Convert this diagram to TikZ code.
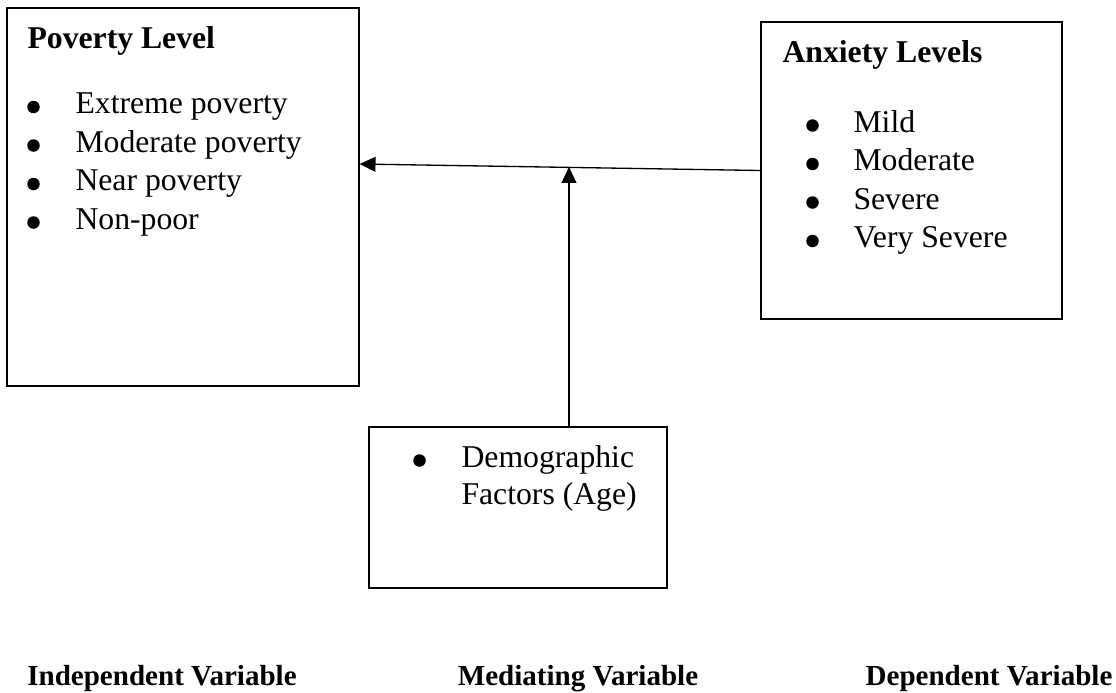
\documentclass[tikz,border=0pt]{standalone}
\usepackage{fontspec}
\setmainfont{Liberation Serif}
\usetikzlibrary{positioning, arrows.meta}
\newlength\px
\setlength\px{0.3785pt}

\begin{document}
\begin{tikzpicture}[
    x=0.3785pt, y=-0.3785pt,
    block/.style={draw, rectangle, line width=0.5pt, inner sep=0pt},
    txt/.style={anchor=base west, inner sep=0pt, font=\fontsize{12pt}{14pt}\selectfont},
    head/.style={txt, font=\fontsize{12pt}{14pt}\selectfont\bfseries},
    dot/.style={circle, fill, inner sep=0pt, minimum size=12.5\px},
    caption/.style={anchor=base, inner sep=0pt, font=\fontsize{11pt}{13pt}\selectfont\bfseries},
    arrow/.style={-{Triangle[length=6pt, width=5.6pt]}, line width=0.5pt}
]
\useasboundingbox (0,0) rectangle (1116,692);

% the three boxes
\node[block, minimum width=352\px, minimum height=378\px] (poverty) at (183,197) {};
\node[block, minimum width=301\px, minimum height=297\px] (anxiety) at (911.5,170.5) {};
\node[block, minimum width=298\px, minimum height=161\px] (demog) at (518,507.5) {};

% box contents
\node[head] (pov-title) at (27,48) {Poverty Level};
\foreach \itm [count=\i] in {Extreme poverty, Moderate poverty, Near poverty, Non-poor} {
    \node[dot] (pov-dot\i) at (33.5, 68.5+38.5*\i) {};
    \node[txt] (pov-txt\i) at (75, 75+38.5*\i) {\itm};
}
\node[head] (anx-title) at (782,62) {Anxiety Levels};
\foreach \itm [count=\i] in {Mild, Moderate, Severe, Very Severe} {
    \node[dot] (anx-dot\i) at (812.5, 87+38.5*\i) {};
    \node[txt] (anx-txt\i) at (853, 93.5+38.5*\i) {\itm};
}
\node[dot] (dem-dot) at (419.5,460.5) {};
\node[txt] (dem-txt1) at (461,467) {Demographic};
\node[txt] (dem-txt2) at (461,504) {Factors (Age)};

% arrows
\coordinate (pov-in) at ([yshift=33\px]poverty.east);
\coordinate (meet) at (569,167);
\draw[arrow] (anxiety.west) -- (pov-in);
\draw[arrow] (demog.north -| meet) -- (meet);

% captions
\node[caption] (indep) at (162,685) {Independent Variable};
\node[caption] (mediat) at (578,685) {Mediating Variable};
\node[caption] (depend) at (989,685) {Dependent Variable};
\end{tikzpicture}
\end{document}
